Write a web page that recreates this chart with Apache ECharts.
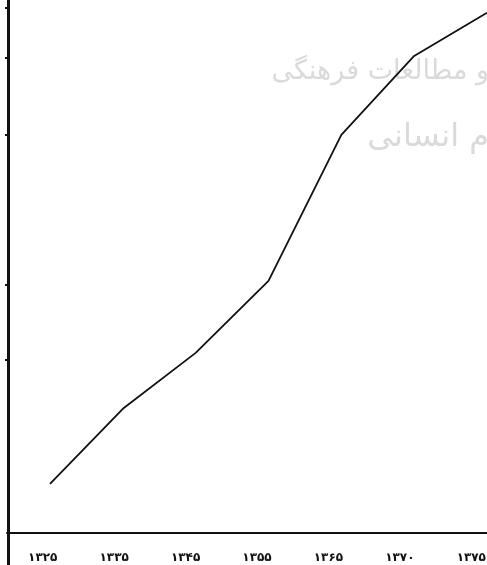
<!DOCTYPE html>
<html>
<head>
<meta charset="utf-8">
<script src="https://cdn.jsdelivr.net/npm/echarts@6/dist/echarts.min.js"></script>
<style>
html,body{margin:0;padding:0;background:#fff;}
#chart{width:487px;height:565px;}
</style>
</head>
<body>
<div id="chart"></div>
<script>
// Data
var years = ['۱۳۲۵', '۱۳۳۵', '۱۳۴۵', '۱۳۵۵', '۱۳۶۵', '۱۳۷۰', '۱۳۷۵'];
var values = [9.2, 23.3, 33.8, 47.3, 74.7, 89.5, 97.6];
var yTickMarks = [32.5, 46.5, 74.7, 89.1, 98.5];
var watermarkLines = ['و مطالعات فرهنگی', 'م انسانی'];

var chart = echarts.init(document.getElementById('chart'), null, {renderer: 'canvas'});
var gridBase = {top: 0, outerBoundsMode: 'none', containLabel: false};
chart.setOption({
  animation: false,
  backgroundColor: '#fff',
  graphic: [
    {type: 'text', right: -2, top: 58, z: 0, silent: true,
      style: {text: watermarkLines[0], fill: '#dadada', font: '27px "DejaVu Sans"'}},
    {type: 'text', right: -2, top: 122, z: 0, silent: true,
      style: {text: watermarkLines[1], fill: '#dadada', font: '32px "DejaVu Sans"'}}
  ],
  grid: [
    Object.assign({left: 7, width: 500, bottom: 32}, gridBase),
    Object.assign({left: 50, width: 437, bottom: 32}, gridBase),
    Object.assign({left: 8, width: 500, bottom: 0}, gridBase)
  ],
  xAxis: [
    {type: 'category', gridIndex: 0, data: years, boundaryGap: true,
      axisLine: {onZero: false, lineStyle: {color: '#111', width: 2}},
      axisTick: {show: false},
      axisLabel: {margin: 19, color: '#111', fontSize: 12, fontWeight: 'bold', fontFamily: 'DejaVu Sans'},
      splitLine: {show: false}},
    {type: 'category', gridIndex: 1, data: years, boundaryGap: false, show: false},
    {type: 'category', gridIndex: 2, data: years, show: false}
  ],
  yAxis: [
    {type: 'value', gridIndex: 0, min: 0, max: 100, show: false, splitLine: {show: false}},
    {type: 'value', gridIndex: 1, min: 0, max: 100, show: false, splitLine: {show: false}},
    {type: 'value', gridIndex: 2, min: -6, max: 100,
      axisLine: {show: true, lineStyle: {color: '#111', width: 3}},
      axisTick: {show: true, customValues: yTickMarks, inside: false, length: 3, lineStyle: {color: '#111', width: 2}},
      axisLabel: {show: false},
      splitLine: {show: false}}
  ],
  series: [{
    type: 'line',
    xAxisIndex: 1, yAxisIndex: 1,
    data: values,
    symbol: 'none',
    lineStyle: {color: '#111', width: 1.8},
    z: 5
  }]
});
</script>
</body>
</html>
